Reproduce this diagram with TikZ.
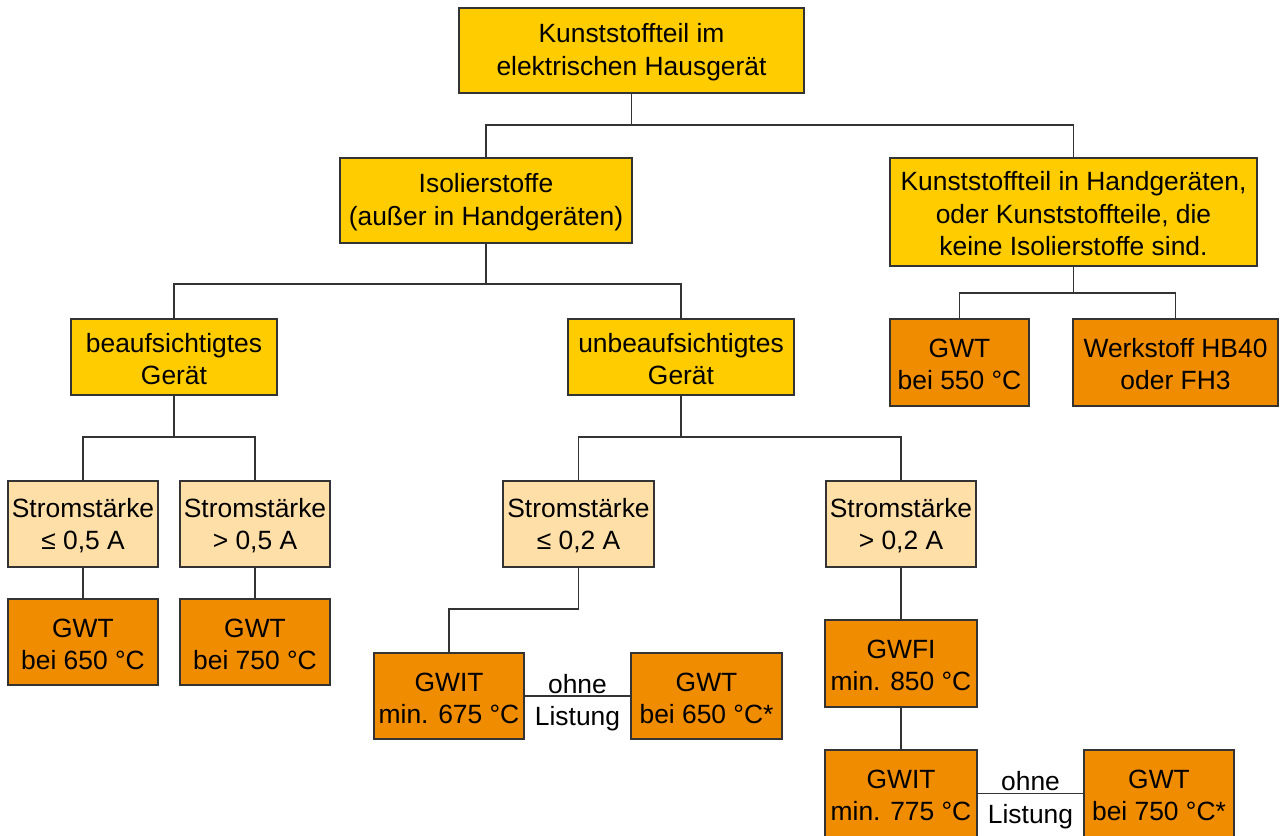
\documentclass[tikz,border=0pt]{standalone}
\usepackage{fontspec}
\setmainfont{Liberation Sans}
\definecolor{cyel}{HTML}{FFCC00}
\definecolor{clight}{HTML}{FFDFA8}
\definecolor{corange}{HTML}{F08C00}
\definecolor{cline}{HTML}{333333}
\begin{document}
\begin{tikzpicture}[x=0.5pt,y=-0.5pt,
  box/.style={draw=cline,line width=0.75pt,align=center,inner sep=0pt,
    font=\fontsize{13.2}{16.2}\selectfont},
  yel/.style={box,fill=cyel},
  lig/.style={box,fill=clight},
  ora/.style={box,fill=corange},
  conn/.style={draw=cline,line width=0.75pt},
  lbl/.style={inner sep=0pt,font=\fontsize{13.2}{16.2}\selectfont}]
\useasboundingbox (0,0) rectangle (1281,836);
\clip (0,0) rectangle (1281,836);
% nodes
\node[yel,minimum width=172.5pt,minimum height=42.5pt] (top) at (631.5,50.5) {\strut Kunststoffteil im\\elektrischen Hausgerät};
\node[yel,minimum width=146pt,minimum height=42.5pt] (iso) at (486,200.5) {\strut Isolierstoffe\\(außer in Handgeräten)};
\node[yel,minimum width=183.5pt,minimum height=54pt] (kh) at (1073.5,212) {\strut Kunststoffteil in Handgeräten,\\oder Kunststoffteile, die\\keine Isolierstoffe sind.};
\node[yel,minimum width=103pt,minimum height=38pt] (beauf) at (174,357) {\strut beaufsichtigtes\\Gerät};
\node[yel,minimum width=113pt,minimum height=38pt] (unbeauf) at (681,357) {\strut unbeaufsichtigtes\\Gerät};
\node[lig,minimum width=75pt,minimum height=43pt] (s05a) at (83,524) {\strut Stromstärke\\≤ 0,5 A};
\node[lig,minimum width=75pt,minimum height=43pt] (s05b) at (255,524) {\strut Stromstärke\\> 0,5 A};
\node[ora,minimum width=75pt,minimum height=43pt] (g650) at (83,642) {\strut GWT\\bei 650 °C};
\node[ora,minimum width=75pt,minimum height=43pt] (g750) at (255,642) {\strut GWT\\bei 750 °C};
\node[lig,minimum width=75.5pt,minimum height=43pt] (s02a) at (578.5,524) {\strut Stromstärke\\≤ 0,2 A};
\node[lig,minimum width=75pt,minimum height=43pt] (s02b) at (901,524) {\strut Stromstärke\\> 0,2 A};
\node[ora,minimum width=75pt,minimum height=43pt] (gwit1) at (449,696) {\strut GWIT\\min. 675 °C};
\node[ora,minimum width=75.5pt,minimum height=43pt] (gwt1) at (706.5,696) {\strut GWT\\bei 650 °C*};
\node[ora,minimum width=76pt,minimum height=43.5pt] (gwfi) at (901,663.5) {\strut GWFI\\min. 850 °C};
\node[ora,minimum width=76pt,minimum height=43.5pt] (gwit2) at (901,793.5) {\strut GWIT\\min. 775 °C};
\node[ora,minimum width=75pt,minimum height=43.5pt] (gwt2) at (1159,793.5) {\strut GWT\\bei 750 °C*};
\node[ora,minimum width=69.5pt,minimum height=43.5pt] (g550) at (959.5,362.5) {\strut GWT\\bei 550 °C};
\node[ora,minimum width=102.5pt,minimum height=43.5pt] (hb40) at (1175.5,362.5) {\strut Werkstoff HB40\\oder FH3};
% connectors
\draw[conn] (top.south) -- (top.south |- 0,125) -| (iso.north);
\draw[conn] (top.south |- 0,125) -| (kh.north);
\draw[conn] (iso.south) -- (iso.south |- 0,284) -| (beauf.north);
\draw[conn] (iso.south |- 0,284) -| (unbeauf.north);
\draw[conn] (beauf.south) -- (beauf.south |- 0,437) -| (s05a.north);
\draw[conn] (beauf.south |- 0,437) -| (s05b.north);
\draw[conn] (unbeauf.south) -- (unbeauf.south |- 0,437) -| (s02a.north);
\draw[conn] (unbeauf.south |- 0,437) -| (s02b.north);
\draw[conn] (s05a.south) -- (g650.north);
\draw[conn] (s05b.south) -- (g750.north);
\draw[conn] (s02a.south) -- (s02a.south |- 0,609) -| (gwit1.north);
\draw[conn] (gwit1.east) -- (gwt1.west)
  node[lbl,midway,above=1pt] (o1) {ohne}
  node[lbl,midway,below=5pt] (l1) {Listung};
\draw[conn] (s02b.south) -- (gwfi.north);
\draw[conn] (gwfi.south) -- (gwit2.north);
\draw[conn] (gwit2.east) -- (gwt2.west)
  node[lbl,midway,above=1pt] (o2) {ohne}
  node[lbl,midway,below=5pt] (l2) {Listung};
\draw[conn] (kh.south) -- (kh.south |- 0,293) -| (g550.north);
\draw[conn] (kh.south |- 0,293) -| (hb40.north);
\end{tikzpicture}
\end{document}
